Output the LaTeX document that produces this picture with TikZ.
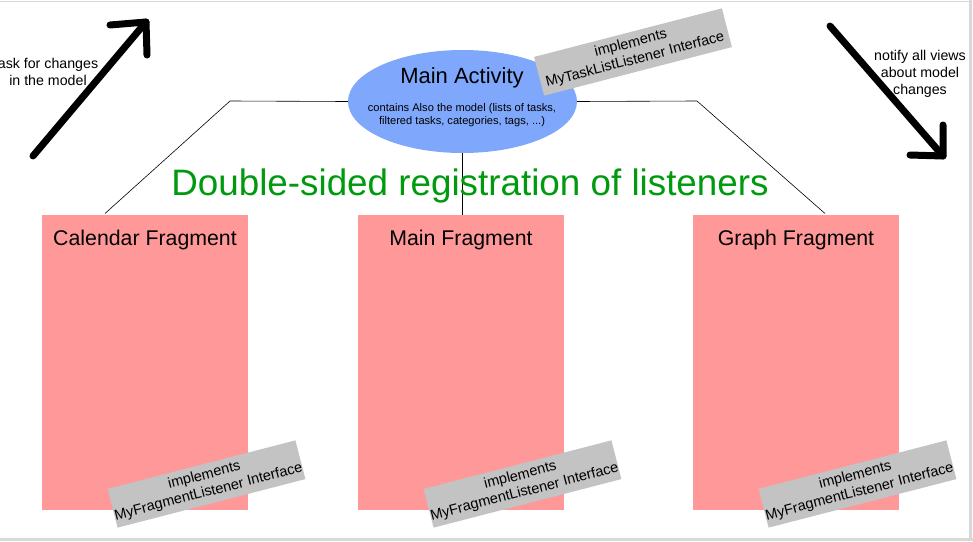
\documentclass[tikz,border=0pt]{standalone}
\usepackage{fontspec}
\setmainfont{Liberation Sans}
\usetikzlibrary{shapes.geometric}
\definecolor{fragred}{HTML}{FF9999}
\definecolor{actblue}{HTML}{7FA7FB}
\definecolor{implgray}{HTML}{C3C3C3}
\definecolor{titlegreen}{HTML}{009A0E}
\definecolor{framegray}{HTML}{D8D8D8}
\begin{document}
\begin{tikzpicture}[x=1pt,y=-1pt,
  frag/.style={fill=fragred,draw=none,minimum width=206pt,minimum height=295pt,anchor=north west,inner sep=0pt},
  fraglabel/.style={font=\fontsize{21.3}{24}\selectfont,anchor=center},
  impl/.style={fill=implgray,draw=none,rotate=14.5,minimum width=194pt,minimum height=40pt,align=center,inner sep=0pt,font=\fontsize{14.5}{17}\selectfont},
  conn/.style={draw=black,line width=0.6pt},
  bigarrow/.style={line width=7pt,line cap=round,line join=round},
  note/.style={align=center,font=\fontsize{14.2}{17}\selectfont}]
\useasboundingbox (0,0) rectangle (973,541);
\clip (0,0) rectangle (973,541);
% frame
\draw[framegray,line width=1.5pt] (0,1.5) -- (970,1.5);
\draw[framegray,line width=3pt] (970.5,0) -- (970.5,541);
\draw[framegray,line width=3pt] (0,539.5) -- (973,539.5);
% coordinates for connectors
\coordinate (lbend) at (230,101);
\coordinate (rbend) at (697,101);
% fragments
\node[frag] (cal) at (42,215) {};
\node[frag] (mainf) at (358,215) {};
\node[frag] (graph) at (693,215) {};
\node[fraglabel] (callab) at (145,240) {Calendar Fragment};
\node[fraglabel] (mainlab) at (461,240) {Main Fragment};
\node[fraglabel] (graphlab) at (796,240) {Graph Fragment};
% main activity
\node[ellipse,fill=actblue,draw=none,minimum width=229pt,minimum height=103pt,inner sep=0pt] (act) at (462.5,101.5) {};
\node[font=\fontsize{22}{24}\selectfont] (actlab) at (462,77.5) {Main Activity};
\node[align=center,font=\fontsize{11.1}{13.5}\selectfont] (actsub) at (462,115) {contains Also the model (lists of tasks,\\filtered tasks, categories, tags, ...)};
% connectors
\draw[conn] (act.west) -- (lbend) -- (105,213.5);
\draw[conn] (act.east) -- (rbend) -- (825,213.5);
\draw[conn] (act.south) -- (mainf.north west -| act.south);
% title
\node[text=titlegreen,font=\fontsize{36.8}{40}\selectfont] (title) at (470,186) {Double-sided registration of listeners};
% implements boxes
\node[impl] (impla) at (633,52) {implements\\MyTaskListListener Interface};
\node[impl] (implc) at (206.5,484) {implements\\MyFragmentListener Interface};
\node[impl] (implm) at (522.5,484) {implements\\MyFragmentListener Interface};
\node[impl] (implg) at (857.5,484) {implements\\MyFragmentListener Interface};
% big arrows
\coordinate (la1) at (33,156);
\coordinate (la2) at (146,22);
\draw[bigarrow] (la1) -- (la2);
\draw[bigarrow] (110,25) -- (la2) -- (147,55);
\coordinate (ra1) at (830,26);
\coordinate (ra2) at (943,156);
\draw[bigarrow] (ra1) -- (ra2);
\draw[bigarrow] (910,155) -- (ra2) -- (943,125);
% notes
\node[note] (asknote) at (48,72) {ask for changes\\in the model};
\node[note] (notifynote) at (920,74) {notify all views\\about model\\changes};
\end{tikzpicture}
\end{document}
